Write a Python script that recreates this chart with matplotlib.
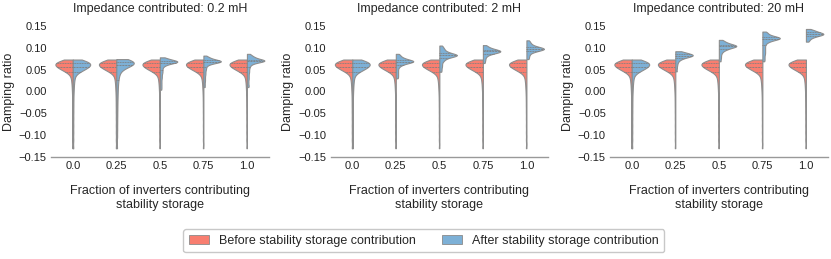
import matplotlib
matplotlib.use("Agg")
import matplotlib.pyplot as plt
from matplotlib.patches import Patch
import numpy as np
import pandas as pd
import seaborn as sns

fractions = ["0.0", "0.25", "0.5", "0.75", "1.0"]
impedances = ["0.2 mH", "2 mH", "20 mH"]
stages = ["Before stability storage contribution", "After stability storage contribution"]
colors = ["#f87e70", "#7db0d6"]
yticks = [-0.15, -0.10, -0.05, 0.00, 0.05, 0.10, 0.15]

# damping ratios before any contribution (same for every case)
before = [0.073, 0.072, 0.071, 0.071, 0.070, 0.070, 0.069, 0.069, 0.068, 0.068,
          0.068, 0.067, 0.067, 0.067, 0.066, 0.066, 0.066, 0.065, 0.065, 0.065,
          0.064, 0.064, 0.063, 0.063, 0.063, 0.062, 0.062, 0.062, 0.061, 0.061,
          0.060, 0.060, 0.060, 0.059, 0.059, 0.058, 0.058, 0.057, 0.057, 0.056,
          0.056, 0.055, 0.055, 0.054, 0.054, 0.053, 0.053, 0.052, 0.052, 0.051,
          0.051, 0.050, 0.050, 0.049, 0.048, 0.047, 0.046, 0.045, 0.043, 0.042,
          0.040, 0.036, 0.032, 0.028, 0.023, 0.017, 0.010, 0.002, -0.008, -0.020,
          -0.033, -0.047, -0.062, -0.078, -0.094, -0.111, -0.130]

# after contribution, 0.2 mH
a02_025 = [0.074, 0.073, 0.072, 0.071, 0.071, 0.070, 0.070, 0.069, 0.069, 0.068,
           0.068, 0.067, 0.067, 0.066, 0.066, 0.065, 0.065, 0.064, 0.064, 0.063,
           0.063, 0.062, 0.062, 0.061, 0.060, 0.059, 0.058, 0.057, 0.056, 0.054,
           0.052, 0.049, 0.046, 0.042, 0.038, 0.033, 0.027, 0.020, 0.012, 0.003,
           -0.007, -0.018, -0.030, -0.043, -0.057, -0.072, -0.088, -0.105, -0.130]
a02_05 = [0.078, 0.077, 0.076, 0.075, 0.074, 0.073, 0.072, 0.072, 0.071, 0.071,
          0.070, 0.070, 0.069, 0.069, 0.069, 0.068, 0.068, 0.068, 0.067, 0.067,
          0.067, 0.066, 0.066, 0.065, 0.065, 0.064, 0.063, 0.062, 0.061, 0.060,
          0.058, 0.056, 0.053, 0.050, 0.047, 0.044, 0.041, 0.037, 0.033, 0.029,
          0.024, 0.019, 0.014, 0.009, 0.004]
a02_075 = [0.082, 0.080, 0.078, 0.077, 0.076, 0.075, 0.074, 0.073, 0.072, 0.072,
           0.071, 0.071, 0.070, 0.070, 0.070, 0.069, 0.069, 0.069, 0.068, 0.068,
           0.068, 0.067, 0.067, 0.066, 0.066, 0.065, 0.064, 0.063, 0.062, 0.060,
           0.058, 0.055, 0.052, 0.049, 0.045, 0.041, 0.037, 0.032, 0.027, 0.022,
           0.016, 0.010]
a02_1 = [0.086, 0.084, 0.082, 0.080, 0.079, 0.078, 0.077, 0.076, 0.075, 0.074,
         0.073, 0.073, 0.072, 0.072, 0.071, 0.071, 0.071, 0.070, 0.070, 0.070,
         0.069, 0.069, 0.068, 0.068, 0.067, 0.066, 0.065, 0.064, 0.062, 0.060,
         0.057, 0.054, 0.050, 0.046, 0.042, 0.037, 0.032, 0.027, 0.021, 0.015,
         0.010]

# after contribution, 2 mH
a2_025 = [0.086, 0.084, 0.082, 0.080, 0.078, 0.077, 0.076, 0.075, 0.074, 0.073,
          0.072, 0.072, 0.071, 0.071, 0.070, 0.070, 0.069, 0.069, 0.069, 0.068,
          0.068, 0.067, 0.067, 0.066, 0.066, 0.065, 0.064, 0.063, 0.062, 0.061,
          0.059, 0.057, 0.054, 0.050, 0.046, 0.042, 0.038, 0.034, 0.030]
a2_05 = [0.105, 0.102, 0.099, 0.097, 0.095, 0.093, 0.091, 0.090, 0.089, 0.088,
         0.087, 0.086, 0.085, 0.085, 0.084, 0.084, 0.083, 0.083, 0.082, 0.082,
         0.081, 0.081, 0.080, 0.079, 0.078, 0.077, 0.076, 0.074, 0.072, 0.070,
         0.067, 0.063, 0.059, 0.055, 0.050, 0.045]
a2_075 = [0.106, 0.104, 0.102, 0.100, 0.099, 0.098, 0.097, 0.096, 0.095, 0.095,
          0.094, 0.094, 0.093, 0.093, 0.092, 0.092, 0.091, 0.091, 0.090, 0.090,
          0.089, 0.089, 0.088, 0.087, 0.086, 0.085, 0.083, 0.081, 0.078, 0.074,
          0.070, 0.065]
a2_1 = [0.117, 0.114, 0.111, 0.109, 0.107, 0.105, 0.104, 0.103, 0.102, 0.101,
        0.100, 0.100, 0.099, 0.099, 0.098, 0.098, 0.097, 0.097, 0.096, 0.096,
        0.095, 0.095, 0.094, 0.093, 0.092, 0.091, 0.090, 0.088, 0.085, 0.082,
        0.078, 0.074]

# after contribution, 20 mH
a20_025 = [0.092, 0.091, 0.090, 0.089, 0.088, 0.087, 0.086, 0.086, 0.085, 0.085,
           0.084, 0.084, 0.083, 0.083, 0.082, 0.082, 0.081, 0.081, 0.080, 0.080,
           0.079, 0.078, 0.077, 0.076, 0.075, 0.073, 0.071, 0.068, 0.064, 0.059,
           0.053, 0.046]
a20_05 = [0.118, 0.116, 0.114, 0.112, 0.111, 0.110, 0.109, 0.108, 0.107, 0.106,
          0.106, 0.105, 0.105, 0.104, 0.104, 0.103, 0.103, 0.102, 0.102, 0.101,
          0.100, 0.099, 0.098, 0.097, 0.096, 0.094, 0.092, 0.089, 0.085, 0.080,
          0.075, 0.069]
a20_075 = [0.137, 0.135, 0.133, 0.131, 0.129, 0.128, 0.127, 0.126, 0.125, 0.124,
           0.124, 0.123, 0.123, 0.122, 0.122, 0.121, 0.121, 0.120, 0.120, 0.119,
           0.118, 0.117, 0.116, 0.115, 0.113, 0.111, 0.108, 0.104, 0.100, 0.096,
           0.092, 0.088, 0.084, 0.079, 0.074, 0.069]
a20_1 = [0.143, 0.141, 0.140, 0.139, 0.138, 0.137, 0.136, 0.135, 0.134, 0.134,
         0.133, 0.133, 0.132, 0.132, 0.131, 0.131, 0.130, 0.130, 0.129, 0.129,
         0.128, 0.127, 0.126, 0.125, 0.124, 0.122, 0.120, 0.117, 0.114]

after = {
    "0.2 mH": [before, a02_025, a02_05, a02_075, a02_1],
    "2 mH": [before, a2_025, a2_05, a2_075, a2_1],
    "20 mH": [before, a20_025, a20_05, a20_075, a20_1],
}

rows = []
for imp in impedances:
    for frac, vals in zip(fractions, after[imp]):
        rows += [(imp, frac, stages[0], v) for v in before]
        rows += [(imp, frac, stages[1], v) for v in vals]
df = pd.DataFrame(rows, columns=["impedance", "fraction", "stage", "ratio"])


def kde_bw(kde):
    # scott-like width that scales with spread, with a small floor
    sd = np.std(kde.dataset, ddof=1)
    return max(0.155 * sd, 0.003) / sd


sns.set_style("white")
plt.rcParams["font.family"] = ["Liberation Sans", "DejaVu Sans"]

fig, axes = plt.subplots(1, 3, figsize=(8.31, 2.59), dpi=100)
fig.subplots_adjust(left=0.0614, right=0.996, bottom=0.394, top=0.900, wspace=0.284)

for ax, imp in zip(axes, impedances):
    sub = df[df.impedance == imp]
    sns.violinplot(data=sub, x="fraction", y="ratio", hue="stage",
                   order=fractions, hue_order=stages, split=True,
                   inner="quart", cut=0, density_norm="width", width=0.8,
                   palette=colors, saturation=1, linewidth=0.8,
                   linecolor="#8e8e8e", bw_method=kde_bw, gridsize=300,
                   inner_kws={"color": "#7f7f7f", "linewidth": 0.6},
                   legend=False, ax=ax)
    ax.set_xlim(-0.5, 4.5)
    ax.set_ylim(-0.15, 0.15)
    ax.set_yticks(yticks)
    ax.set_title("Impedance contributed: " + imp, fontsize=9, pad=10)
    ax.set_xlabel("Fraction of inverters contributing\nstability storage",
                  fontsize=9, labelpad=10)
    ax.set_ylabel("Damping ratio", fontsize=9, labelpad=3)
    ax.tick_params(length=0, labelsize=8, pad=3, colors="#222222")
    for s in ["left", "top", "right"]:
        ax.spines[s].set_visible(False)
    ax.spines["bottom"].set_color("#999999")
    ax.spines["bottom"].set_linewidth(1)

handles = [Patch(facecolor=c, edgecolor="#8a8a8a", linewidth=0.6) for c in colors]
fig.legend(handles, stages, loc="center", bbox_to_anchor=(0.51, 0.07), ncol=2,
           fontsize=9, frameon=True, fancybox=True, edgecolor="#bbbbbb",
           handlelength=1.6, handleheight=0.7, columnspacing=2.1, borderpad=0.45)

plt.savefig("out.png", dpi=100)
